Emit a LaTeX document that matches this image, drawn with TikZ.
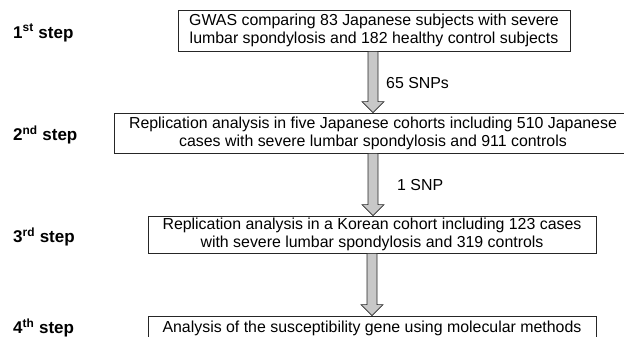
\documentclass[tikz,border=0pt]{standalone}
\usepackage{fontspec}
\setmainfont{Liberation Sans}
\usetikzlibrary{positioning,calc}
\definecolor{arrowgray}{RGB}{200,200,200}
\tikzset{
  box/.style={draw=black!85,line width=0.7pt,align=center,inner sep=1pt,
    font=\fontsize{15.9}{18}\selectfont},
  steplabel/.style={anchor=west,inner sep=0pt,font=\fontsize{17}{18}\selectfont\bfseries},
  snplabel/.style={anchor=west,inner sep=0pt,font=\fontsize{15.9}{18}\selectfont},
}
\newcommand{\blockarrow}[2]{%
  \filldraw[fill=arrowgray,draw=black!85,line width=0.6pt] let \p1=(#1), \p2=(#2) in
    (\x1-5pt,\y1) -- (\x1+5pt,\y1) -- (\x1+5pt,\y2+11pt) -- (\x1+11pt,\y2+11pt)
    -- (\x2,\y2) -- (\x1-11pt,\y2+11pt) -- (\x1-5pt,\y2+11pt) -- cycle;}

\begin{document}
\begin{tikzpicture}[x=1pt,y=-1pt]
\useasboundingbox (0,0) rectangle (624,337);
\clip (0,0) rectangle (624,337);

% steps
\node[box,minimum width=392pt,minimum height=41pt] (b1) at (374,30.5)
  {GWAS comparing 83 Japanese subjects with severe\\lumbar spondylosis and 182 healthy control subjects};
\node[box,minimum width=518pt,minimum height=40pt] (b2) at (373,133)
  {Replication analysis in five Japanese cohorts including 510 Japanese\\cases with severe lumbar spondylosis and 911 controls};
\node[box,minimum width=448pt,minimum height=37pt] (b3) at (372,234.5)
  {Replication analysis in a Korean cohort including 123 cases\\with severe lumbar spondylosis and 319 controls};
\node[box,minimum width=448pt,minimum height=24pt] (b4) at (372,328)
  {Analysis of the susceptibility gene using molecular methods};

% labels on the left
\node[steplabel] (s1) at (13,33) {1\textsuperscript{st} step};
\node[steplabel] (s2) at (13,135) {2\textsuperscript{nd} step};
\node[steplabel] (s3) at (13,237) {3\textsuperscript{rd} step};
\node[steplabel] (s4) at (13,328) {4\textsuperscript{th} step};

% arrows
\coordinate (a1) at (b1.south -| b2.north);
\blockarrow{a1}{b2.north}
\coordinate (a3) at (b3.north -| b2.south);
\blockarrow{b2.south}{a3}
\coordinate (a4) at (b4.north -| b3.south);
\blockarrow{b3.south}{a4}

\node[snplabel] (n1) at (386,83) {65 SNPs};
\node[snplabel] (n2) at (397,185) {1 SNP};
\end{tikzpicture}
\end{document}
